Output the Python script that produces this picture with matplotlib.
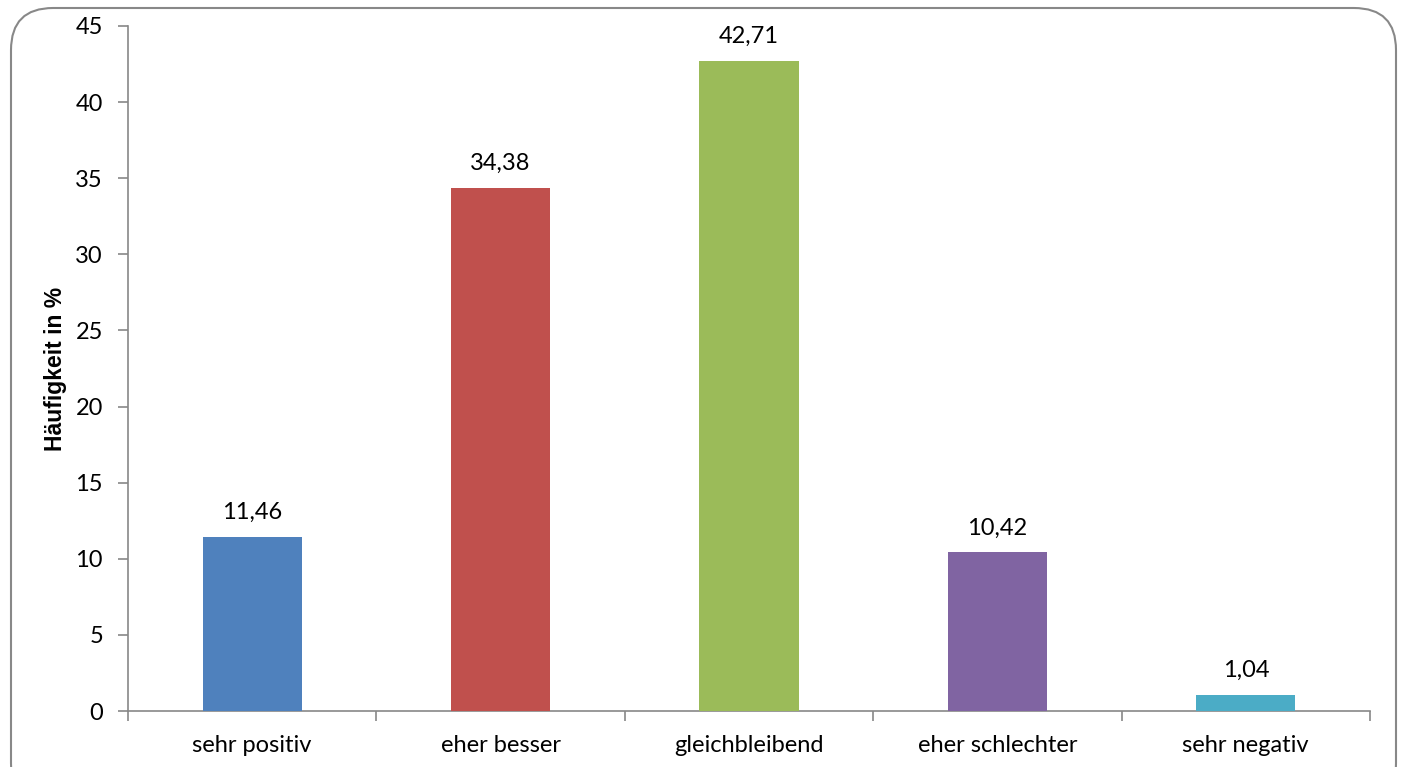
import matplotlib
matplotlib.use("Agg")
import matplotlib.pyplot as plt
from matplotlib.patches import FancyBboxPatch

categories = ["sehr positiv", "eher besser", "gleichbleibend", "eher schlechter", "sehr negativ"]
values = [11.46, 34.38, 42.71, 10.42, 1.04]
colors = ["#4F81BD", "#C0504D", "#9BBB59", "#8064A2", "#4BACC6"]
yticks = [0, 5, 10, 15, 20, 25, 30, 35, 40, 45]

plt.rcParams['font.family'] = ['Lato', 'DejaVu Sans']

fig = plt.figure(figsize=(14.03, 7.67), dpi=100)
ax = fig.add_axes([128/1403, 56/767, (1370-128)/1403, (711-26)/767])

x = list(range(len(categories)))
bars = ax.bar(x, values, width=0.4, color=colors, zorder=3)
for xi, v in zip(x, values):
    ax.annotate(f"{v:.2f}".replace(".", ","), (xi, v), xytext=(0, 10), textcoords="offset points",
                ha="center", va="bottom", fontsize=17)

ax.set_xlim(-0.5, len(categories) - 0.5)
ax.set_ylim(0, 45)
ax.set_yticks(yticks)
ax.set_yticklabels([str(t) for t in yticks], fontsize=17)
ax.set_xticks(x)
ax.set_xticklabels(categories, fontsize=17)
ax.tick_params(axis='x', length=0, pad=17)
ax.set_xticks([i - 0.5 for i in range(len(categories) + 1)], minor=True)
ax.tick_params(axis='x', which='minor', length=7, width=1.2, color="#888888", direction='out')
ax.tick_params(axis='y', length=7, width=1.2, color="#888888", direction='out', pad=11)

for s in ["top", "right"]:
    ax.spines[s].set_visible(False)
for s in ["left", "bottom"]:
    ax.spines[s].set_color("#888888")
    ax.spines[s].set_linewidth(1.2)

ax.set_ylabel("Häufigkeit in %", fontsize=16.5, fontweight="bold", labelpad=6,
              fontfamily="Liberation Sans")

border = FancyBboxPatch((11/1403, -0.05), (1396-11)/1403, (759/767) + 0.05,
                        boxstyle="round,pad=0,rounding_size=0.03",
                        transform=fig.transFigure, fill=False,
                        edgecolor="#888888", linewidth=1.5, mutation_aspect=1403/767)
fig.patches.append(border)

fig.savefig("out.png", dpi=100)
